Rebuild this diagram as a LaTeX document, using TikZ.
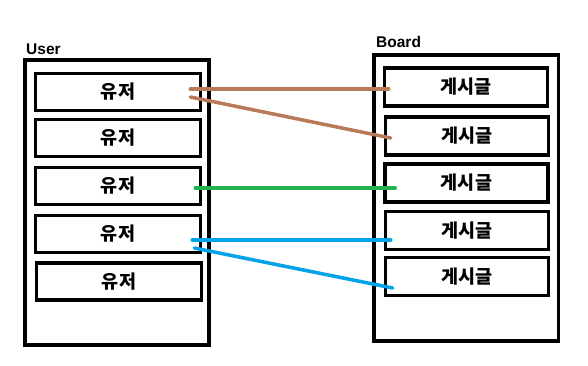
\documentclass[tikz,border=0pt]{standalone}
\usepackage{fontspec}
\usepackage{xcolor}
\setmainfont{Liberation Sans}
\newfontfamily\krfont{Noto Sans CJK KR}
\definecolor{linkbrown}{HTML}{B97A57}
\definecolor{linkgreen}{HTML}{22B14C}
\definecolor{linkblue}{HTML}{00A2E8}

\begin{document}
\begin{tikzpicture}[x=1pt,y=-1pt,
  frame/.style={draw,line width=3.5pt},
  title/.style={anchor=base west,inner sep=0pt,font=\bfseries\fontsize{15.5}{18}\selectfont},
  userbox/.style={draw,line width=3.5pt,minimum width=165pt,minimum height=37pt,inner sep=0pt,font=\krfont\bfseries\fontsize{18.5}{20}\selectfont},
  postbox/.style={draw,line width=3.5pt,minimum width=163pt,minimum height=38pt,inner sep=0pt,font=\krfont\bfseries\fontsize{18.5}{20}\selectfont},
  link/.style={line width=3.5pt,line cap=round}]
\useasboundingbox (0,0) rectangle (588,366);
\fill[white] (0,0) rectangle (588,366);
\draw[frame] (25,60) rectangle (209,345);
\draw[frame] (374,55) rectangle (558.5,341);
\node[title] (usertitle) at (26,55) {User};
\node[title] (boardtitle) at (376,48) {Board};
\node[userbox] (u1) at (118,92) {유저};
\node[userbox] (u2) at (118,138) {유저};
\node[userbox] (u3) at (118,186) {유저};
\node[userbox] (u4) at (118,234) {유저};
\node[userbox] (u5) at (119,281.5) {유저};
\node[postbox] (b1) at (466,87) {게시글};
\node[postbox] (b2) at (467,136) {게시글};
\node[postbox] (b3) at (466.5,183) {게시글};
\node[postbox] (b4) at (467,230.5) {게시글};
\node[postbox] (b5) at (467,276.5) {게시글};
\draw[link,linkbrown] ([xshift=-12pt,yshift=3pt]u1.east) -- ([xshift=6pt,yshift=-2pt]b1.west);
\draw[link,linkbrown] ([xshift=-12pt,yshift=-5pt]u1.east) -- ([xshift=7pt,yshift=-2pt]b2.west);
\draw[link,linkgreen] ([xshift=-7pt,yshift=-2pt]u3.east) -- ([xshift=12pt,yshift=-5pt]b3.west);
\draw[link,linkblue] ([xshift=-10pt,yshift=-6pt]u4.east) -- ([xshift=7pt,yshift=-9.5pt]b4.west);
\draw[link,linkblue] ([xshift=-8pt,yshift=-14pt]u4.east) -- ([xshift=9pt,yshift=-11.5pt]b5.west);
\end{tikzpicture}
\end{document}
